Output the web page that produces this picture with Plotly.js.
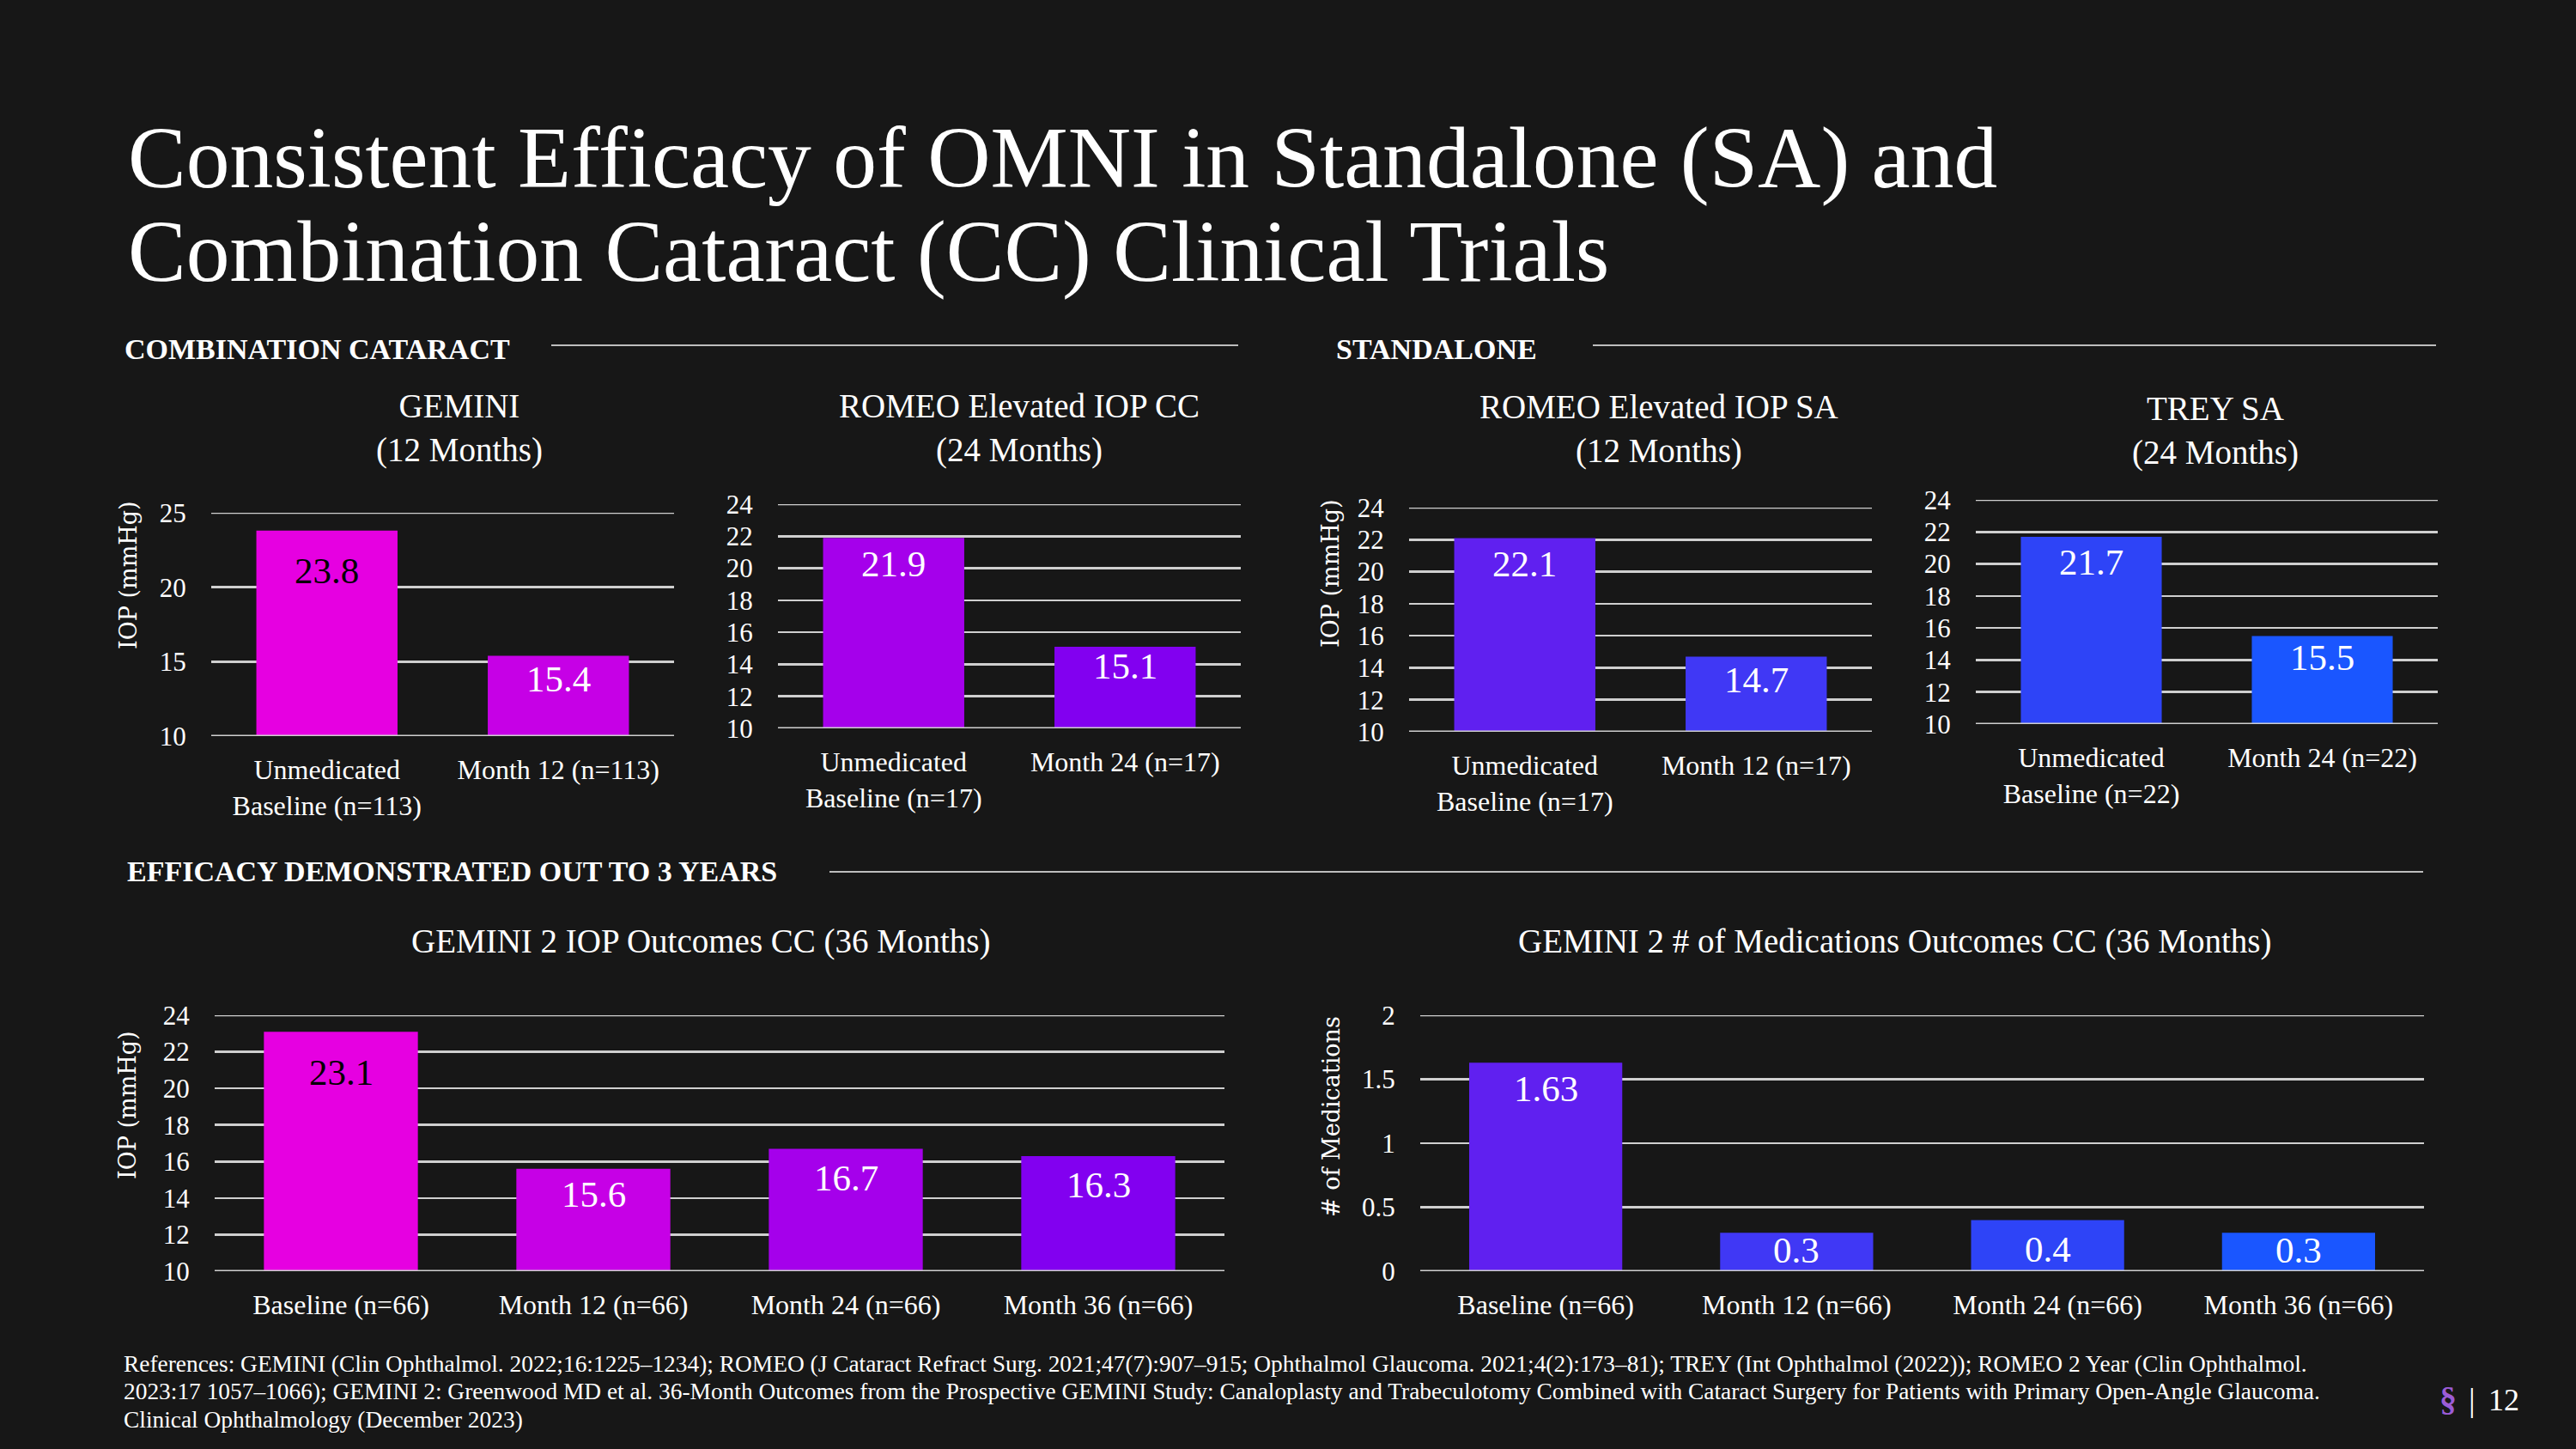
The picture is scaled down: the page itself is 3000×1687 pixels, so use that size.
<!DOCTYPE html>
<html>
<head>
<meta charset="utf-8">
<script src="https://cdn.plot.ly/plotly-3.0.1.min.js"></script>
<style>
  html, body { margin: 0; padding: 0; background: #171717; }
  #chart { width: 3000px; height: 1687px; }
</style>
</head>
<body>
<div id="chart"></div>
<script>
// ---------------- DATA ----------------
const geminiCats = ['Unmedicated<br>Baseline (n=113)', 'Month 12 (n=113)'];
const geminiIOP = [23.8, 15.4];

const romeoCCCats = ['Unmedicated<br>Baseline (n=17)', 'Month 24 (n=17)'];
const romeoCCIOP = [21.9, 15.1];

const romeoSACats = ['Unmedicated<br>Baseline (n=17)', 'Month 12 (n=17)'];
const romeoSAIOP = [22.1, 14.7];

const treyCats = ['Unmedicated<br>Baseline (n=22)', 'Month 24 (n=22)'];
const treyIOP = [21.7, 15.5];

const gemini2Cats = ['Baseline (n=66)', 'Month 12 (n=66)', 'Month 24 (n=66)', 'Month 36 (n=66)'];
const gemini2IOP = [23.1, 15.6, 16.7, 16.3];
const gemini2Meds = [1.63, 0.3, 0.4, 0.3];

const chartTitles = [
  'GEMINI<br>(12 Months)',
  'ROMEO Elevated IOP CC<br>(24 Months)',
  'ROMEO Elevated IOP SA<br>(12 Months)',
  'TREY SA<br>(24 Months)',
  'GEMINI 2 IOP Outcomes CC (36 Months)',
  'GEMINI 2 # of Medications Outcomes CC (36 Months)'
];
const sectionLabels = ['COMBINATION CATARACT', 'STANDALONE', 'EFFICACY DEMONSTRATED OUT TO 3 YEARS'];
const pageTitle = ['Consistent Efficacy of OMNI in Standalone (SA) and', 'Combination Cataract (CC) Clinical Trials'];
const yTitleIOP = 'IOP (mmHg)';
const yTitleMeds = '# of Medications';
const referencesLines = [
  'References: GEMINI (Clin Ophthalmol. 2022;16:1225–1234); ROMEO (J Cataract Refract Surg. 2021;47(7):907–915; Ophthalmol Glaucoma. 2021;4(2):173–81); TREY (Int Ophthalmol (2022)); ROMEO 2 Year (Clin Ophthalmol.',
  '2023:17 1057–1066); GEMINI 2: Greenwood MD et al. 36-Month Outcomes from the Prospective GEMINI Study: Canaloplasty and Trabeculotomy Combined with Cataract Surgery for Patients with Primary Open-Angle Glaucoma.',
  'Clinical Ophthalmology (December 2023)'
];
const pageNumber = '12';

// ---------------- STYLE / LAYOUT ----------------
const W = 3000, H = 1687;
const px = x => x / W;
const py = y => 1 - y / H;
const SERIF = 'Liberation Serif, Times New Roman, serif';
const BG = '#171717';
const GRID = '#cfcfcf';

const charts = [
  { cats: geminiCats, vals: geminiIOP, box: [246, 785, 597, 857], range: [10, 25], dtick: 5,
    colors: ['#E600E1', '#C600E6'], labelColors: ['#000000', '#ffffff'], drops: [47, 27],
    title: chartTitles[0], titleXY: [535, 498], ytitle: yTitleIOP, ytitleXY: [150, 670] },
  { cats: romeoCCCats, vals: romeoCCIOP, box: [906, 1445, 587, 848], range: [10, 24], dtick: 2,
    colors: ['#A500EB', '#8200F0'], labelColors: ['#ffffff', '#ffffff'], drops: [30, 23],
    title: chartTitles[1], titleXY: [1187, 498] },
  { cats: romeoSACats, vals: romeoSAIOP, box: [1641, 2180, 591, 852], range: [10, 24], dtick: 2,
    colors: ['#6020F0', '#4038F5'], labelColors: ['#ffffff', '#ffffff'], drops: [30, 27],
    title: chartTitles[2], titleXY: [1932, 499], ytitle: yTitleIOP, ytitleXY: [1550, 668] },
  { cats: treyCats, vals: treyIOP, box: [2301, 2839, 582, 843], range: [10, 24], dtick: 2,
    colors: ['#2E44F7', '#1A56FF'], labelColors: ['#ffffff', '#ffffff'], drops: [30, 25],
    title: chartTitles[3], titleXY: [2580, 501] },
  { cats: gemini2Cats, vals: gemini2IOP, box: [250, 1426, 1182, 1480], range: [10, 24], dtick: 2,
    colors: ['#E600E1', '#C600E6', '#A500EB', '#8200F0'], labelColors: ['#000000', '#ffffff', '#ffffff', '#ffffff'], drops: [47, 30, 34, 34],
    title: chartTitles[4], titleXY: [816, 1096], ytitle: yTitleIOP, ytitleXY: [148, 1287] },
  { cats: gemini2Cats, vals: gemini2Meds, box: [1654, 2823, 1182, 1480], range: [0, 2], dtick: 0.5,
    colors: ['#6020F0', '#4038F5', '#2E44F7', '#1A56FF'], labelColors: ['#ffffff', '#ffffff', '#ffffff', '#ffffff'], drops: [30, 20, 34, 20],
    title: chartTitles[5], titleXY: [2206, 1096], ytitle: yTitleMeds, ytitleXY: [1550, 1300] }
];

const data = [];
const layout = {
  width: W, height: H,
  paper_bgcolor: BG, plot_bgcolor: BG,
  margin: { l: 0, r: 0, t: 0, b: 0, pad: 0 },
  showlegend: false,
  bargap: 0.39,
  font: { family: SERIF, color: '#ffffff' },
  annotations: [],
  shapes: []
};

charts.forEach((c, i) => {
  const n = i + 1;
  const sfx = (n === 1 ? '' : String(n));
  const xa = 'x' + sfx;
  const ya = 'y' + sfx;
  data.push({
    type: 'bar', x: c.cats, y: c.vals,
    xaxis: xa, yaxis: ya,
    marker: { color: c.colors, line: { width: 0 } },
    hoverinfo: 'skip'
  });
  layout['xaxis' + sfx] = {
    domain: [px(c.box[0]), px(c.box[1])],
    anchor: ya, type: 'category',
    showgrid: false, zeroline: false, showline: false,
    ticks: 'outside', ticklen: 11, tickcolor: 'rgba(0,0,0,0)',
    tickfont: { family: SERIF, size: 32, color: '#ffffff' },
    fixedrange: true
  };
  layout['yaxis' + sfx] = {
    domain: [py(c.box[3]), py(c.box[2])],
    anchor: xa, range: c.range, tick0: c.range[0], dtick: c.dtick,
    showgrid: true, gridcolor: GRID, gridwidth: 2.5,
    zeroline: false, showline: false,
    ticks: 'outside', ticklen: 22, tickcolor: 'rgba(0,0,0,0)',
    tickfont: { family: SERIF, size: 31, color: '#ffffff' },
    fixedrange: true
  };
  // gridlines at range ends (Plotly skips them)
  layout.shapes.push({
    type: 'line', xref: xa + ' domain', yref: ya, x0: 0, x1: 1, y0: c.range[1], y1: c.range[1],
    line: { color: GRID, width: 2.5 }, layer: 'below'
  });
  layout.shapes.push({
    type: 'line', xref: xa + ' domain', yref: ya, x0: 0, x1: 1, y0: c.range[0], y1: c.range[0],
    line: { color: GRID, width: 3 }, layer: 'above'
  });
  // value labels
  c.vals.forEach((v, k) => {
    layout.annotations.push({
      xref: xa, yref: ya, x: c.cats[k], y: v,
      text: String(v), showarrow: false,
      yanchor: 'middle', xanchor: 'center', yshift: -c.drops[k],
      font: { family: SERIF, size: 43, color: c.labelColors[k] }
    });
  });
  // chart title
  layout.annotations.push({
    xref: 'paper', yref: 'paper', x: px(c.titleXY[0]), y: py(c.titleXY[1]),
    text: c.title, showarrow: false, xanchor: 'center', yanchor: 'middle',
    font: { family: SERIF, size: 39, color: '#ffffff' }
  });
  // y axis title
  if (c.ytitle) {
    layout.annotations.push({
      xref: 'paper', yref: 'paper', x: px(c.ytitleXY[0]), y: py(c.ytitleXY[1]),
      text: c.ytitle, showarrow: false, textangle: -90,
      xanchor: 'center', yanchor: 'middle',
      font: { family: 'DejaVu Serif, serif', size: 27, color: '#ffffff' }
    });
  }
});

// page title
[[pageTitle[0], 184], [pageTitle[1], 293]].forEach(([t, y]) => {
  layout.annotations.push({
    xref: 'paper', yref: 'paper', x: px(147), y: py(y),
    text: t, showarrow: false, xanchor: 'left', yanchor: 'middle',
    font: { family: SERIF, size: 101.5, color: '#ffffff' }
  });
});

// section headers with rules
const sections = [
  { label: sectionLabels[0], x: 143, y: 406, line: [642, 1442, 402] },
  { label: sectionLabels[1], x: 1554, y: 406, line: [1855, 2837, 402] },
  { label: sectionLabels[2], x: 146, y: 1014, line: [966, 2822, 1015] }
];
sections.forEach(s => {
  layout.annotations.push({
    xref: 'paper', yref: 'paper', x: px(s.x), y: py(s.y),
    text: '<b>' + s.label + '</b>', showarrow: false, xanchor: 'left', yanchor: 'middle',
    font: { family: SERIF, size: 34, color: '#ffffff' }
  });
  layout.shapes.push({
    type: 'line', xref: 'paper', yref: 'paper',
    x0: px(s.line[0]), x1: px(s.line[1]), y0: py(s.line[2]), y1: py(s.line[2]),
    line: { color: '#bdbdbd', width: 2 }
  });
});

// references (one annotation per line)
[1588, 1620, 1653].forEach((y, k) => {
  layout.annotations.push({
    xref: 'paper', yref: 'paper', x: px(142), y: py(y),
    text: referencesLines[k], showarrow: false, xanchor: 'left', yanchor: 'middle', align: 'left',
    font: { family: SERIF, size: 27.4, color: '#ffffff' }
  });
});

// logo + page number
layout.annotations.push({
  xref: 'paper', yref: 'paper', x: px(2851), y: py(1628),
  text: '<b>§</b>', showarrow: false, xanchor: 'center', yanchor: 'middle',
  font: { family: SERIF, size: 40, color: '#9B5CD6' }
});
layout.annotations.push({
  xref: 'paper', yref: 'paper', x: px(2879), y: py(1630),
  text: '|', showarrow: false, xanchor: 'center', yanchor: 'middle',
  font: { family: SERIF, size: 38, color: '#ffffff' }
});
layout.annotations.push({
  xref: 'paper', yref: 'paper', x: px(2896), y: py(1630),
  text: pageNumber, showarrow: false, xanchor: 'left', yanchor: 'middle',
  font: { family: SERIF, size: 36, color: '#ffffff' }
});

Plotly.newPlot('chart', data, layout, { displayModeBar: false, staticPlot: true });
</script>
</body>
</html>
